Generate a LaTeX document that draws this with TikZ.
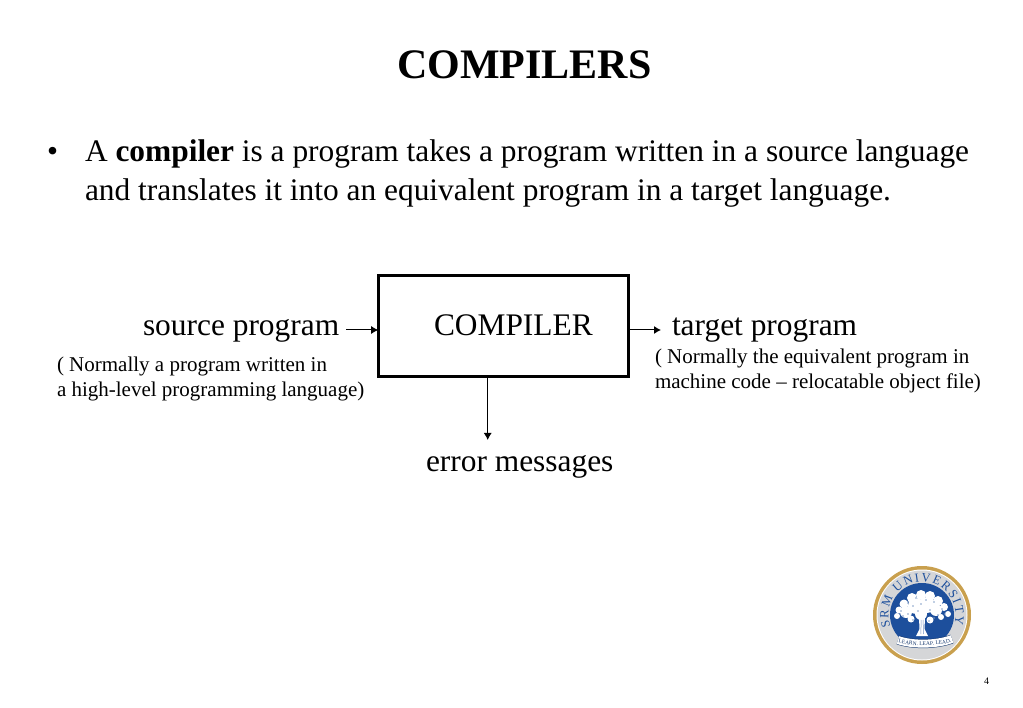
\documentclass[tikz,border=0pt]{standalone}
\usepackage{fontspec}
\setmainfont{Liberation Serif}
\usetikzlibrary{decorations.text,arrows.meta}
\definecolor{srmblue}{HTML}{1D4F9C}
\definecolor{srmgold}{HTML}{C9A04E}
\definecolor{srmgrey}{HTML}{D5D6D8}
\newcommand{\fs}[1]{\fontsize{#1}{#1}\selectfont}
\tikzset{
  txt/.style={anchor=base west,inner sep=0pt,outer sep=0pt,text=black},
  titletxt/.style={txt,font=\fs{42}\bfseries},
  bodytxt/.style={txt,font=\fs{31.4}},
  labeltxt/.style={txt,font=\fs{31.4}},
  smalltxt/.style={txt,font=\fs{21}},
  flow/.style={draw=black,line width=1pt,-{Latex[length=7pt,width=8pt]}},
  mainbox/.style={draw=black,line width=3pt,minimum width=250.3pt,minimum height=101.3pt,inner sep=0pt,outer sep=0pt,anchor=north west}
}
\begin{document}
\begin{tikzpicture}[x=1pt,y=1pt]
\useasboundingbox (0,0) rectangle (1023,-708);
\node[titletxt] (title) at (397,-79) {COMPILERS};
\node[bodytxt] (bullet) at (47,-162) {•};
\node[bodytxt] (line1) at (85,-162) {A \textbf{compiler} is a program takes a program written in a source language};
\node[bodytxt] (line2) at (85,-200.5) {and translates it into an equivalent program in a target language.};
\node[mainbox] (box) at (378.2,-275.5) {};
\node[labeltxt] (comp) at (434,-335.5) {COMPILER};
\node[labeltxt] (src) at (143,-335.5) {source program};
\node[labeltxt] (tgt) at (672,-335.5) {target program};
\node[labeltxt] (err) at (426,-471.5) {error messages};
\node[smalltxt] (sa) at (57,-371.5) {( Normally a program written in};
\node[smalltxt] (sb) at (57,-396.5) {a high-level programming language)};
\node[smalltxt] (ta) at (655,-364) {( Normally the equivalent program in};
\node[smalltxt] (tb) at (655,-389) {machine code – relocatable object file)};
\node[txt,font=\fs{10}] (pg) at (984,-684) {4};
\coordinate (srcout) at (346,-330);
\coordinate (tgtin) at (661,-330);
\coordinate (boxerr) at (487.7,-377);
\coordinate (errin) at (487.7,-440);
\draw[flow] (srcout) -- (box.west |- srcout);
\draw[flow] (box.east |- tgtin) -- (tgtin);
\draw[flow] (boxerr) -- (errin);
% logo
\begin{scope}[shift={(922,-615)}]
  \fill[srmgold] (0,0) circle (49);
  \fill[white] (0,0) circle (45.5);
  \fill[srmgrey] (0,0) circle (44.5);
  \fill[srmblue] (0,0) circle (32);
  \path[decorate,decoration={text along path,text align={fit to path},
    text={|\fontsize{12.5}{12.5}\selectfont\color{srmblue}|SRM UNIVERSITY}}]
    (200:33.5) arc[start angle=200,end angle=-16,radius=33.5];
  % tree canopy
  \foreach \x/\y/\r in {-25/-1/3,-23/5/3.5,-18/11/4.5,-10/17/5,-1/20/5,8/19/5,16/14/5,22/8/4,26/1/3,-16/3/6,-6/9/8,5/10/8,14/5/6,-11/-4/3.5,8/-5/3.5,19/-2/3,-1/1/6}
    \fill[white] (\x,\y) circle (\r);
  \foreach \x/\y in {-21/4,-14/12,-6/17,4/15,12/13,20/6,-14/1,-4/4,8/5,16/0,-9/-5,7/-6,-1/11,23/1,-19/-1,-9/9,12/-3}
    \fill[srmblue!55] (\x,\y) circle (0.8);
  % trunk
  \fill[white] (-3,-3) -- (3,-3) -- (2.5,-14) -- (6,-21) -- (-6,-21) -- (-2.5,-14) -- cycle;
  \draw[srmblue!60,line width=0.5pt] (-0.8,-5) -- (-1.2,-19) (1.1,-5) -- (1.5,-19);
  % banner
  \draw[srmblue!70!black,line width=9pt] (-24,-25) .. controls (-10,-30) and (14,-30) .. (30,-24);
  \draw[white,line width=8pt] (-24,-25) .. controls (-10,-30) and (14,-30) .. (30,-24);
  \path[decorate,decoration={text along path,text align=center,
    text={|\fontsize{5.5}{5.5}\selectfont\color{srmblue!70!black}|LEARN. LEAP. LEAD.}}]
    (-27,-27) .. controls (-10,-32) and (14,-32) .. (33,-26);
\end{scope}
\end{tikzpicture}
\end{document}
